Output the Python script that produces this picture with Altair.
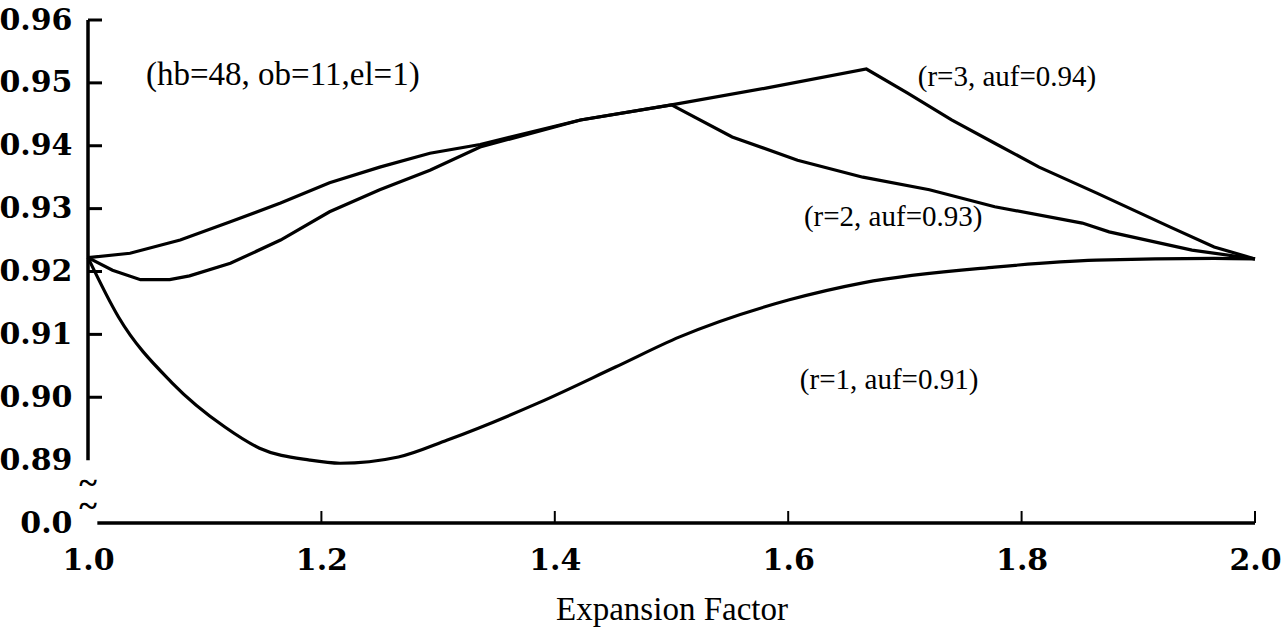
import altair as alt
import pandas as pd

# ---- data ----
r1_x = [1.0, 1.026, 1.072, 1.117, 1.147, 1.19, 1.216, 1.266, 1.308, 1.386, 1.452, 1.507,
        1.601, 1.664, 1.777, 1.864, 1.965, 2.0]
r1_y = [0.9222, 0.9128, 0.9023, 0.8953, 0.8919, 0.8900, 0.8895, 0.8905, 0.8932, 0.8991,
        0.9048, 0.9096, 0.9155, 0.9182, 0.9207, 0.9218, 0.9221, 0.9220]

r2_x = [1.0, 1.021, 1.045, 1.07, 1.087, 1.122, 1.165, 1.207, 1.25, 1.293, 1.336, 1.422,
        1.5, 1.552, 1.608, 1.664, 1.721, 1.777, 1.852, 1.875, 1.946, 2.0]
r2_y = [0.9222, 0.9202, 0.9187, 0.9187, 0.9193, 0.9213, 0.925, 0.9295, 0.933, 0.9361,
        0.9398, 0.9441, 0.9465, 0.9414, 0.9377, 0.935, 0.933, 0.9303, 0.9277, 0.9263,
        0.9234, 0.922]

r3_x = [1.0, 1.036, 1.079, 1.122, 1.165, 1.207, 1.25, 1.293, 1.336, 1.422, 1.5, 1.582,
        1.667, 1.702, 1.74, 1.777, 1.815, 1.864, 1.927, 1.965, 2.0]
r3_y = [0.9222, 0.9229, 0.925, 0.9279, 0.9309, 0.9341, 0.9366, 0.9388, 0.9402, 0.9441,
        0.9465, 0.9492, 0.9522, 0.9484, 0.9441, 0.9404, 0.9366, 0.9325, 0.9271, 0.9239,
        0.922]

x_ticks = [1.0, 1.2, 1.4, 1.6, 1.8, 2.0]
x_inner_ticks = [1.2, 1.4, 1.6, 1.8, 2.0]
x_axis_span = [1.008, 2.0]
y_ticks = [0.88, 0.89, 0.90, 0.91, 0.92, 0.93, 0.94, 0.95, 0.96]
y_inner_ticks = [0.90, 0.91, 0.92, 0.93, 0.94, 0.95, 0.96]
y_axis_span = [0.89, 0.96]
break_marks = [0.8862, 0.8826]

ann_text = ["(hb=48, ob=11,el=1)", "(r=3, auf=0.94)", "(r=2, auf=0.93)", "(r=1, auf=0.91)"]
ann_x = [1.0497, 1.711, 1.6135, 1.61]
ann_y = [0.9513, 0.9509, 0.9287, 0.9027]
ann_size = [33, 29, 29, 29]

W, H = 1167, 503

lines_df = pd.DataFrame(
    [{"series": "r=2", "x": a, "y": b} for a, b in zip(r2_x, r2_y)]
    + [{"series": "r=3", "x": a, "y": b} for a, b in zip(r3_x, r3_y)]
)
r1_df = pd.DataFrame({"series": "r=1", "x": r1_x, "y": r1_y})

xscale = alt.Scale(domain=[1.0, 2.0], nice=False, zero=False)
yscale = alt.Scale(domain=[0.88, 0.96], nice=False, zero=False)

x_axis = alt.Axis(
    values=x_ticks, format=".1f", grid=False, ticks=False, tickSize=0, domain=False,
    labelFont="DejaVu Serif", labelFontWeight="bold", labelFontSize=30,
    labelColor="black", labelBaseline="middle", labelPadding=37, labelFlush=False,
    title="Expansion Factor", titleFont="Liberation Serif", titleFontSize=33,
    titleFontWeight="normal", titleColor="black", titleBaseline="middle", titleY=86,
)
y_axis = alt.Axis(
    values=y_ticks, grid=False, ticks=False, tickSize=0, domain=False,
    labelExpr="datum.value < 0.885 ? '0.0' : format(datum.value, '.2f')",
    labelFont="DejaVu Serif", labelFontWeight="bold", labelFontSize=30,
    labelColor="black", labelPadding=16, labelFlush=False, title=None,
)

main = alt.Chart(lines_df).mark_line(color="black", strokeWidth=3.2, interpolate="linear").encode(
    x=alt.X("x:Q", scale=xscale, axis=x_axis),
    y=alt.Y("y:Q", scale=yscale, axis=y_axis),
    detail="series:N",
)

r1 = alt.Chart(r1_df).mark_line(color="black", strokeWidth=3.2, interpolate="monotone").encode(
    x="x:Q",
    y="y:Q",
)

yline = alt.Chart(pd.DataFrame({"lo": [y_axis_span[0]], "hi": [y_axis_span[1]], "x": [1.0]})).mark_rule(
    color="black", strokeWidth=3.5
).encode(
    x="x:Q",
    y=alt.Y("lo:Q"),
    y2="hi:Q",
)

xline = alt.Chart(pd.DataFrame({"lo": [x_axis_span[0]], "hi": [x_axis_span[1]], "y": [0.88]})).mark_rule(
    color="black", strokeWidth=3.5
).encode(
    x=alt.X("lo:Q"),
    x2="hi:Q",
    y="y:Q",
)

ytick = alt.Chart(pd.DataFrame({"y": y_inner_ticks, "x": 1.0})).mark_rule(
    color="black", strokeWidth=3
).encode(
    x="x:Q",
    x2=alt.value(14),
    y="y:Q",
)

xtick = alt.Chart(pd.DataFrame({"x": x_inner_ticks, "y": 0.88})).mark_rule(
    color="black", strokeWidth=2
).encode(
    x="x:Q",
    y="y:Q",
    y2=alt.value(H - 12),
)

tildes = alt.Chart(pd.DataFrame({"y": break_marks, "x": 1.0, "t": "~"})).mark_text(
    font="Liberation Serif", fontSize=34, fontWeight="bold", color="black",
    align="center", baseline="middle", dx=0
).encode(
    x="x:Q",
    y="y:Q",
    text="t:N",
)

ann = alt.Chart(pd.DataFrame({"t": ann_text, "x": ann_x, "y": ann_y, "s": ann_size})).mark_text(
    font="Liberation Serif", color="black", align="left", baseline="middle"
).encode(
    x="x:Q",
    y="y:Q",
    text="t:N",
    size=alt.Size("s:Q", scale=None, legend=None),
)

chart = alt.layer(main, r1, yline, xline, ytick, xtick, tildes, ann).properties(
    width=W, height=H,
    autosize=alt.AutoSizeParams(type="none"),
    padding={"left": 88, "top": 20, "right": 33, "bottom": 114},
    background="white",
).configure_view(stroke=None)

chart.save("out.html", embed_options={"renderer": "svg", "actions": False})
